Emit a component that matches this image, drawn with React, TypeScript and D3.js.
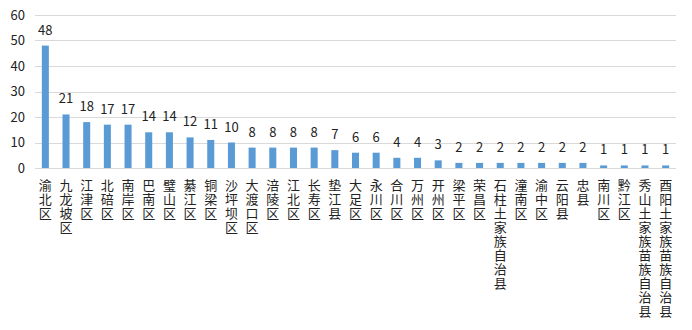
import React, { useEffect, useRef } from "react";
import * as d3 from "d3";

const categories = ["渝北区","九龙坡区","江津区","北碚区","南岸区","巴南区","璧山区","綦江区","铜梁区","沙坪坝区","大渡口区","涪陵区","江北区","长寿区","垫江县","大足区","永川区","合川区","万州区","开州区","梁平区","荣昌区","石柱土家族自治县","潼南区","渝中区","云阳县","忠县","南川区","黔江区","秀山土家族苗族自治县","酉阳土家族苗族自治县"];
const values = [48,21,18,17,17,14,14,12,11,10,8,8,8,8,7,6,6,4,4,3,2,2,2,2,2,2,2,1,1,1,1];
const yTicks = [0,10,20,30,40,50,60];

const W = 692, H = 330;
const M = { left: 35, right: 16, top: 15, bottom: 162 };
const FONT = "'Noto Sans CJK SC', 'DejaVu Sans', sans-serif";

export default function App() {
  const ref = useRef<SVGSVGElement>(null);
  useEffect(() => {
    const svg = d3.select(ref.current);
    svg.selectAll("*").remove();
    const x = d3.scaleBand().domain(categories).range([M.left, W - M.right]).paddingInner(0.66).paddingOuter(0.33);
    const y = d3.scaleLinear().domain([0, 60]).range([H - M.bottom, M.top]);

    const g = svg.append("g");
    g.selectAll("line.grid").data(yTicks).enter().append("line")
      .attr("x1", M.left).attr("x2", W - M.right)
      .attr("y1", d => Math.round(y(d)) + 0.5).attr("y2", d => Math.round(y(d)) + 0.5)
      .attr("stroke", "#D9D9D9").attr("stroke-width", 1);
    g.selectAll("text.ytick").data(yTicks).enter().append("text")
      .attr("x", M.left - 10).attr("y", d => y(d)).attr("dy", "0.35em")
      .attr("text-anchor", "end").attr("font-size", 13).attr("font-family", FONT).attr("fill", "#222")
      .text(d => d);

    g.selectAll("rect.bar").data(values).enter().append("rect")
      .attr("x", (d, i) => x(categories[i])!).attr("width", x.bandwidth())
      .attr("y", d => y(d)).attr("height", d => y(0) - y(d))
      .attr("fill", "#5B9BD5");

    g.selectAll("text.val").data(values).enter().append("text")
      .attr("x", (d, i) => x(categories[i])! + x.bandwidth() / 2)
      .attr("y", d => y(d) - 11)
      .attr("text-anchor", "middle").attr("font-size", 13).attr("font-family", FONT).attr("fill", "#222")
      .text(d => d);

    g.selectAll("text.cat").data(categories).enter().append("text")
      .attr("x", d => x(d)! + x.bandwidth() / 2)
      .attr("y", H - M.bottom + 11)
      .style("writing-mode", "vertical-rl")
      .attr("letter-spacing", 1)
      .attr("font-size", 13).attr("font-family", FONT).attr("fill", "#222")
      .text(d => d);
  }, []);
  return <svg ref={ref} width={W} height={H} style={{ display: "block", position: "absolute", left: 0, top: 0 }} />;
}
